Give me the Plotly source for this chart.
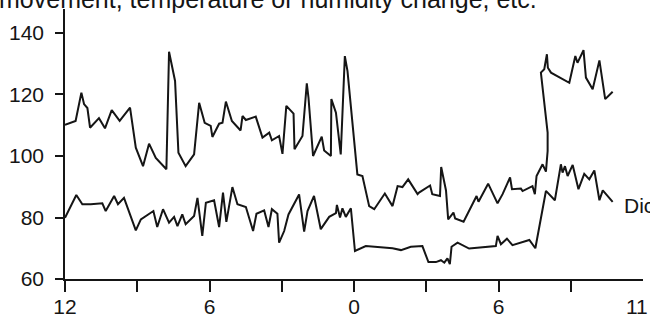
import plotly.graph_objects as go

# hours from the start (12 noon) and readings
upper_hours = [0.00, 0.44, 0.68, 0.79, 0.93, 1.04, 1.41, 1.66, 1.94, 2.27, 2.70, 2.94, 3.24, 3.49, 3.77, 4.21,
               4.32, 4.57, 4.71, 5.01, 5.36, 5.57, 5.80, 6.05, 6.12, 6.40, 6.54, 6.68, 6.93, 7.29, 7.37, 7.51,
               7.92, 8.20, 8.48, 8.59, 8.89, 9.03, 9.19, 9.49, 9.53, 9.86, 10.04, 10.11, 10.30, 10.66, 10.76,
               11.04, 11.06, 11.25, 11.45, 11.62, 11.73, 12.14, 12.35, 12.63, 12.84, 13.28, 13.60, 13.81,
               14.01, 14.25, 14.64, 14.70, 15.16, 15.25, 15.57, 15.62, 15.82, 15.91, 16.13, 16.20, 16.55,
               17.09, 17.17, 17.57, 17.96, 18.17, 18.48, 18.56, 18.93, 19.00, 19.41, 19.51, 19.58, 19.83,
               19.97, 20.04, 20.04, 19.76, 19.90, 20.01, 20.05, 20.18, 20.94, 21.19, 21.28, 21.53, 21.63,
               21.91, 22.19, 22.43, 22.74]
upper_values = [110.1, 111.4, 120.6, 116.9, 115.6, 109.2, 112.3, 109.0, 114.9, 111.4, 115.7, 102.7, 96.7, 104.0,
                99.4, 95.7, 133.9, 124.4, 101.1, 96.7, 100.5, 117.3, 110.8, 109.8, 106.2, 110.5, 110.8, 117.7,
                111.4, 108.3, 113.0, 111.7, 112.8, 106.0, 107.6, 105.1, 106.5, 100.7, 116.3, 113.8, 102.2,
                106.5, 123.6, 119.0, 100.0, 106.3, 101.8, 100.0, 118.5, 114.1, 100.5, 132.5, 127.6, 94.0,
                93.5, 83.7, 82.7, 87.8, 83.7, 90.2, 89.9, 92.4, 87.6, 88.1, 90.4, 87.6, 87.0, 96.4, 88.8,
                79.4, 81.6, 79.7, 78.6, 87.0, 85.1, 91.0, 84.6, 87.6, 93.0, 89.2, 89.4, 88.6, 90.2, 87.6,
                93.5, 97.3, 94.9, 101.6, 107.6, 127.1, 128.2, 133.1, 128.7, 127.1, 123.8, 132.5, 130.3,
                134.4, 125.5, 121.7, 131.1, 118.5, 120.9]

lower_hours = [0.00, 0.47, 0.72, 1.07, 1.55, 1.69, 2.04, 2.20, 2.45, 2.94, 3.15, 3.67, 3.83, 4.07, 4.32, 4.53,
               4.67, 4.87, 5.01, 5.36, 5.50, 5.70, 5.85, 6.19, 6.40, 6.56, 6.70, 6.95, 7.16, 7.51, 7.81, 7.95,
               8.27, 8.45, 8.59, 8.82, 8.89, 9.10, 9.28, 9.72, 9.93, 10.07, 10.34, 10.62, 10.97, 11.25, 11.29,
               11.42, 11.52, 11.66, 11.87, 12.04, 12.49, 13.60, 13.95, 14.36, 14.84, 15.09, 15.40, 15.61,
               15.75, 15.88, 15.98, 16.05, 16.30, 16.78, 17.89, 17.96, 18.10, 18.35, 18.58, 19.28, 19.53,
               19.97, 20.04, 20.34, 20.59, 20.66, 20.76, 20.87, 21.08, 21.32, 21.56, 21.77, 21.98, 22.19,
               22.33, 22.74]
lower_values = [79.9, 87.3, 84.3, 84.3, 84.6, 82.1, 87.0, 84.3, 86.4, 75.8, 79.4, 82.1, 76.9, 82.7, 78.3, 80.2,
                77.2, 81.0, 77.8, 80.5, 86.4, 74.0, 84.8, 85.6, 76.9, 88.1, 78.6, 89.9, 84.3, 83.4, 75.6, 81.2,
                82.3, 76.9, 82.7, 81.2, 71.8, 75.6, 81.0, 87.5, 75.4, 82.1, 87.0, 76.2, 80.2, 81.4, 84.1,
                80.0, 83.0, 80.2, 83.0, 69.1, 70.7, 70.0, 69.4, 70.5, 70.7, 65.5, 65.5, 66.1,
                65.3, 66.7, 64.8, 70.5, 71.8, 69.9, 70.7, 74.0, 71.3, 73.1, 71.0, 72.7, 70.0,
                88.6, 88.1, 85.6, 97.3, 94.6, 96.7, 93.5, 97.1, 89.2, 94.2, 92.4, 95.3, 85.6,
                88.8, 85.1]

x_tick_vals = [0, 3, 6, 9, 12, 15, 18, 21]
x_tick_text = ["12", "", "6", "", "0", "", "6", ""]
y_tick_vals = [60, 80, 100, 120, 140]
last_x_label = "11"
series_label = "Dic"
top_text = "movement, temperature or humidity change, etc."

ink = "#151515"
font = "Liberation Sans, Arial, sans-serif"

fig = go.Figure()
fig.add_trace(go.Scatter(x=upper_hours, y=upper_values, mode="lines",
                         line=dict(color=ink, width=2), showlegend=False))
fig.add_trace(go.Scatter(x=lower_hours, y=lower_values, mode="lines",
                         line=dict(color=ink, width=2), showlegend=False))

fig.update_layout(
    template="none",
    width=650, height=319,
    margin=dict(l=65, r=7, t=9, b=40, pad=0),
    paper_bgcolor="white", plot_bgcolor="white",
    font=dict(family=font, color=ink),
    xaxis=dict(range=[0, 24], showline=True, linecolor=ink, linewidth=1.5,
               ticks="outside", ticklen=11, tickwidth=1.5, tickcolor=ink,
               tickvals=x_tick_vals, ticktext=x_tick_text, automargin=False,
               tickfont=dict(size=21, family=font, color=ink),
               ticklabelstandoff=-3,
               showgrid=False, zeroline=False),
    yaxis=dict(range=[60, 147.8], showline=True, linecolor=ink, linewidth=1.5,
               ticks="outside", ticklen=8, tickwidth=1.5, tickcolor=ink,
               tickvals=y_tick_vals, tickfont=dict(size=21, family=font, color=ink),
               ticklabelstandoff=7, automargin=False,
               showgrid=False, zeroline=False),
    annotations=[
        dict(text=top_text, xref="paper", yref="paper", x=-0.118, y=1.036,
             xanchor="left", yanchor="middle", showarrow=False,
             font=dict(size=25, family=font, color=ink)),
        dict(text=series_label, xref="paper", yref="paper", x=0.963, y=0.274,
             xanchor="left", yanchor="middle", showarrow=False,
             font=dict(size=21, family=font, color=ink)),
        dict(text=last_x_label, xref="paper", yref="paper", x=0.990, y=-0.103,
             xanchor="center", yanchor="middle", showarrow=False,
             font=dict(size=21, family=font, color=ink)),
    ],
)

# the page's default 8px body margin would shift the whole figure; remove it
fig.write_html("out.html", config={"displayModeBar": False},
               post_script="document.body.style.margin='0';")
